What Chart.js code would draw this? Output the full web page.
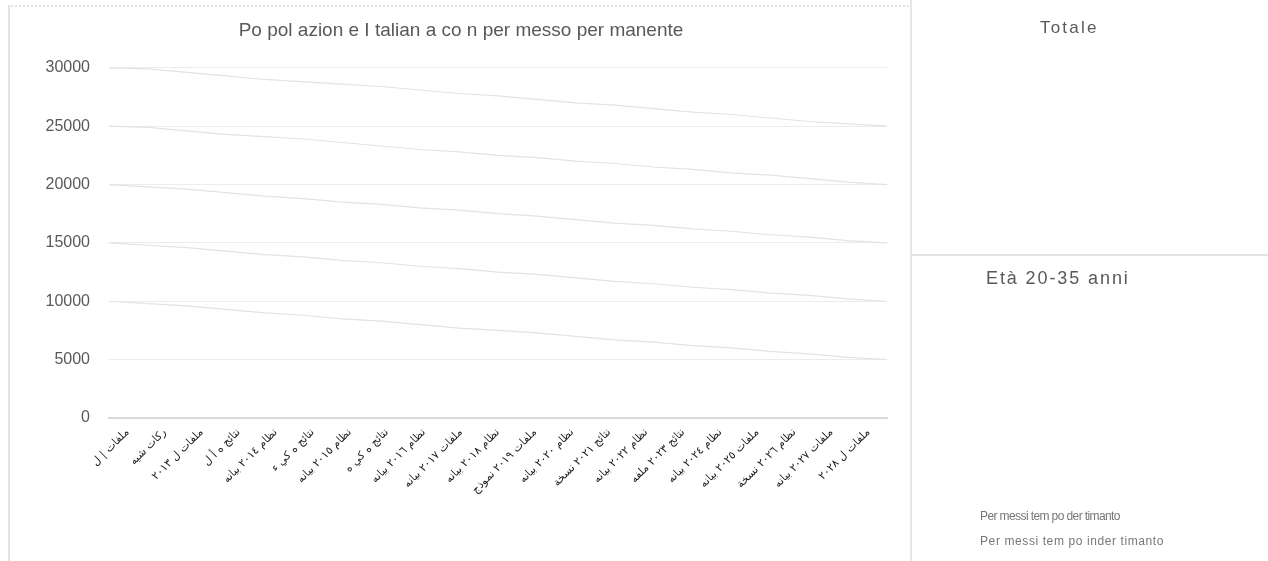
<!DOCTYPE html>
<html>
<head>
<meta charset="utf-8">
<script src="https://cdn.jsdelivr.net/npm/chart.js@4/dist/chart.umd.min.js"></script>
<style>
  html,body{margin:0;padding:0;background:#fff;width:1268px;height:561px;overflow:hidden;font-family:"Liberation Sans",Arial,sans-serif;}
  #main{position:absolute;left:8px;top:5px;width:902px;height:556px;border-left:2px solid #e2e2e2;border-top:2px dotted #e2e2e2;}
  #right{position:absolute;left:910px;top:0;width:358px;height:561px;border-left:2px solid #e6e6e6;}
  #split{position:absolute;left:912px;top:254px;width:356px;height:0;border-top:2px solid #e2e2e2;}
  .t{position:absolute;color:#595959;white-space:nowrap;}
</style>
</head>
<body>
<div id="main"><canvas id="c" width="902" height="556"></canvas></div>
<div id="right"></div>
<div id="split"></div>
<div class="t" style="left:1040px;top:18px;font-size:17px;letter-spacing:2.2px;">Totale</div>
<div class="t" style="left:986px;top:268px;font-size:18px;letter-spacing:1.9px;">Età 20-35 anni</div>
<div class="t" style="left:980px;top:509px;font-size:12px;color:#777;letter-spacing:-0.6px;">Per messi tem po der timanto</div>
<div class="t" style="left:980px;top:534px;font-size:12px;color:#777;letter-spacing:0.6px;">Per messi tem po inder timanto</div>
<script>
const categories = [
  "ملفات | ل", "ركات شيه", "ملفات ل ٢٠١٣", "نتائج ه أ ل", "نظام ٢٠١٤ بيانه",
  "نتائج ه كي ء", "نظام ٢٠١٥ بيانه", "نتائج ه كي ه", "نظام ٢٠١٦ بيانه", "ملفات ٢٠١٧ بيانه",
  "نظام ٢٠١٨ بيانه", "ملفات ٢٠١٩ نموذج", "نظام ٢٠٢٠ بيانه", "نتائج ٢٠٢١ نسخة", "نظام ٢٠٢٢ بيانه",
  "نتائج ٢٠٢٣ ملفه", "نظام ٢٠٢٤ بيانه", "ملفات ٢٠٢٥ بيانه", "نظام ٢٠٢٦ نسخة", "ملفات ٢٠٢٧ بيانه",
  "ملفات ل ٢٠٢٨"
];
const serieA = [30000,29900,29600,29300,29000,28800,28600,28400,28100,27800,27600,27300,27000,26800,26500,26200,26000,25700,25400,25200,25000];
const serieB = [25000,24900,24600,24300,24100,23900,23600,23300,23000,22800,22500,22300,22000,21800,21500,21300,21000,20800,20500,20200,20000];
const serieC = [20000,19800,19600,19300,19000,18800,18500,18300,18000,17800,17500,17300,17000,16700,16500,16200,16000,15700,15500,15200,15000];
const serieD = [15000,14800,14600,14300,14000,13800,13500,13300,13000,12800,12500,12300,12000,11700,11500,11200,11000,10700,10500,10200,10000];
const serieE = [10000,9800,9600,9300,9000,8800,8500,8300,8000,7700,7500,7300,7000,6700,6500,6200,6000,5700,5500,5200,5000];
const yTicks = [0,5000,10000,15000,20000,25000,30000];
const titleText = "Po pol azion e I talian a co n per messo per manente";

const lineStyle = {borderColor:"#e3e3e3", borderWidth:1.2, pointRadius:0, fill:false, tension:0, xAxisID:"x2"};
new Chart(document.getElementById("c"), {
  type: "line",
  data: {
    labels: categories,
    datasets: [
      Object.assign({label:"A", data:serieA}, lineStyle),
      Object.assign({label:"B", data:serieB}, lineStyle),
      Object.assign({label:"C", data:serieC}, lineStyle),
      Object.assign({label:"D", data:serieD}, lineStyle),
      Object.assign({label:"E", data:serieE}, lineStyle)
    ]
  },
  options: {
    responsive:false, animation:false,
    layout:{padding:{left:25,right:25,top:0,bottom:45}},
    plugins:{
      legend:{display:false}, tooltip:{enabled:false},
      title:{display:true, text:titleText, color:"#595959", font:{family:"Liberation Sans", size:19, weight:"normal"}, padding:{top:12,bottom:26}}
    },
    scales:{
      x:{
        type:"category", offset:true,
        grid:{display:false, drawTicks:false},
        border:{display:true, color:"#d9d9d9", width:2},
        ticks:{color:"#222", font:{family:"DejaVu Sans", size:11}, maxRotation:45, minRotation:45, autoSkip:false, padding:8},
        afterFit:(s)=>{s.height = 100;}
      },
      x2:{type:"category", offset:false, display:false},
      y:{
        min:0, max:30000,
        afterBuildTicks:(s)=>{s.ticks = yTicks.map(v=>({value:v}));},
        grid:{color:"#ececec", lineWidth:1, drawTicks:false},
        border:{display:false},
        ticks:{color:"#595959", font:{family:"Liberation Sans", size:16}, padding:19, callback:(v)=>String(v)},
        afterFit:(s)=>{s.width = 74;}
      }
    }
  }
});
</script>
</body>
</html>
